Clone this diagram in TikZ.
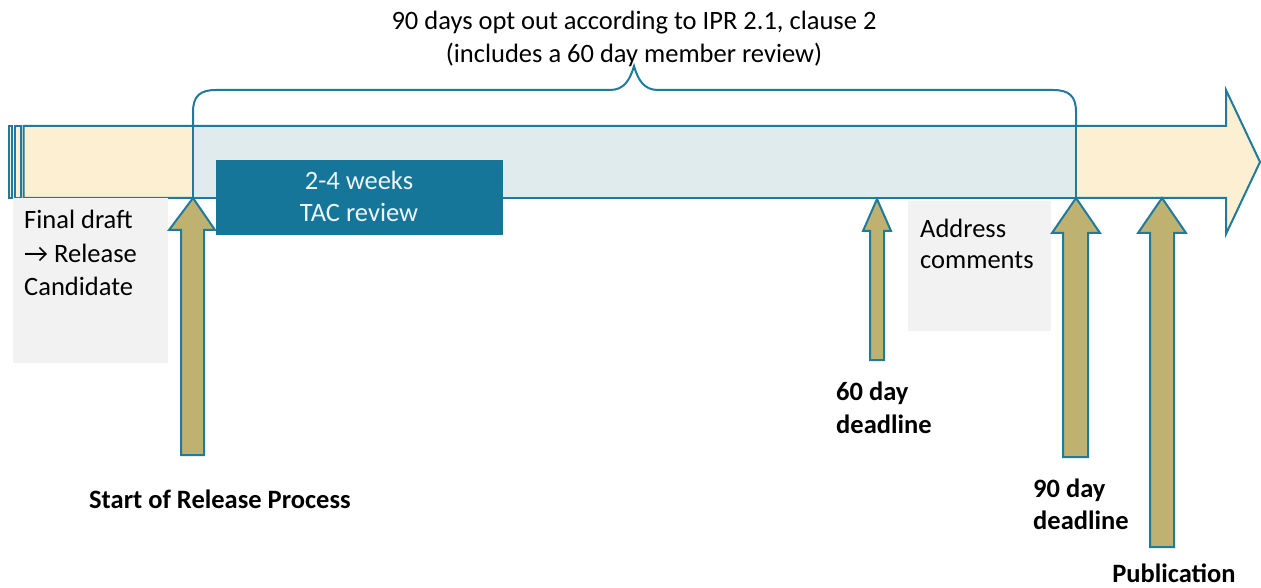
\documentclass[tikz,border=0pt]{standalone}
\usepackage{fontspec}
\setmainfont{Carlito}
\begin{document}
\begin{tikzpicture}[x=1pt,y=-1pt,
  line join=miter,
  edge/.style={draw=tealline,line width=2pt},
  txt/.style={font=\fontsize{26.5}{33}\selectfont,inner sep=0pt,anchor=base west},
  btxt/.style={font=\fontsize{26.5}{33}\selectfont\bfseries,inner sep=0pt,anchor=base west},
  upar/.style={draw=tealline,line width=2pt,fill=khaki},
  greybox/.style={fill=greyfill,draw=none}]
\definecolor{tealline}{RGB}{31,122,156}
\definecolor{tacfill}{RGB}{21,118,154}
\definecolor{khaki}{RGB}{191,178,112}
\definecolor{orangefill}{RGB}{253,239,209}
\definecolor{bluefill}{RGB}{223,235,236}
\definecolor{greyfill}{RGB}{242,242,242}
\useasboundingbox (0,0) rectangle (1261,588);
% main arrow
\draw[edge,fill=orangefill] (23.5,126) -- (1226,126) -- (1226,90) -- (1260,162) -- (1226,234) -- (1226,198) -- (23.5,198) -- cycle;
\draw[edge,fill=orangefill] (8.5,126) rectangle (11.5,198);
\draw[edge,fill=orangefill] (15,126) rectangle (21,198);
% light blue period
\draw[edge,fill=bluefill] (193,126) rectangle (1076,198);
% brace
\draw[edge] (193,126) -- (193,112) .. controls (193,96) and (200,90) .. (216,90) -- (610,90) .. controls (624,90) and (630,80) .. (634,66)
  .. controls (638,80) and (644,90) .. (658,90) -- (1053,90) .. controls (1069,90) and (1076,96) .. (1076,112) -- (1076,126);
% TAC box
\node[fill=tacfill,minimum width=287pt,minimum height=75pt,inner sep=0pt,anchor=north west] (tac) at (216,160) {};
\node[txt,anchor=base,text=white!93!tacfill] (tac1) at (359,190) {2-4 weeks};
\node[txt,anchor=base,text=white!93!tacfill] (tac2) at (359,222) {TAC review};
% grey boxes
\node[greybox,minimum width=155pt,minimum height=165pt,anchor=north west,inner sep=0pt] (fd) at (13,198) {};
\node[txt] (fd1) at (24,229) {Final draft};
\node[txt] (fd2) at (24,262) {→ Release};
\node[txt] (fd3) at (24,295) {Candidate};
\node[greybox,minimum width=143pt,minimum height=130pt,anchor=north west,inner sep=0pt] (ac) at (908,201) {};
\node[txt] (ac1) at (920,237) {Address};
\node[txt] (ac2) at (920,269) {comments};
% up arrows
\draw[upar] (193,198) -- (215,230) -- (204,230) -- (204,455) -- (181,455) -- (181,230) -- (169,230) -- cycle;
\draw[upar] (877,199) -- (891,231) -- (884,231) -- (884,360) -- (870,360) -- (870,231) -- (863,231) -- cycle;
\draw[upar] (1076,198) -- (1100,233) -- (1088,233) -- (1088,457) -- (1063,457) -- (1063,233) -- (1052,233) -- cycle;
\draw[upar] (1162,198) -- (1186,233) -- (1174,233) -- (1174,547) -- (1150,547) -- (1150,233) -- (1138,233) -- cycle;
% labels
\node[txt,anchor=base] (top1) at (634,30) {90 days opt out according to IPR 2.1, clause 2};
\node[txt,anchor=base] (top2) at (634,63) {(includes a 60 day member review)};
\node[btxt] (start) at (89,508) {Start of Release Process};
\node[btxt] (d60a) at (836,400) {60 day};
\node[btxt] (d60b) at (836,433) {deadline};
\node[btxt] (d90a) at (1033,497) {90 day};
\node[btxt] (d90b) at (1033,529) {deadline};
\node[btxt,anchor=base] (pub) at (1174,582) {Publication};
\end{tikzpicture}
\end{document}
